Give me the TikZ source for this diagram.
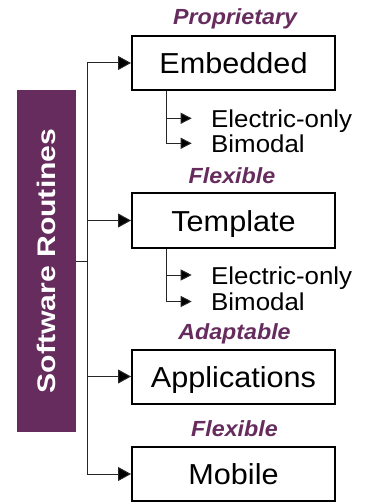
\documentclass[tikz,border=0pt]{standalone}
\usepackage{fontspec}
\setmainfont[FakeStretch=1.06]{Liberation Sans}
\usetikzlibrary{arrows.meta}
\definecolor{plum}{RGB}{102,44,94}
\begin{document}
\begin{tikzpicture}[x=1bp,y=-1bp,
  catbox/.style={draw=black, line width=2bp, minimum width=203bp, minimum height=54bp,
    inner sep=0pt, font=\fontsize{29}{32}\selectfont, text height=21bp, text depth=0bp},
  tag/.style={text=plum, font=\fontsize{22}{24}\selectfont\bfseries\itshape, anchor=base, inner sep=0pt},
  subtext/.style={font=\fontsize{24.5}{26}\selectfont, anchor=base west, inner sep=0pt},
  conn/.style={draw=black!85, line width=1bp},
  arr/.style={conn, -{Triangle[length=13bp,width=14bp,fill=black]}},
  subarr/.style={conn, -{Triangle[length=11bp,width=11bp,fill=black]}},
]
\useasboundingbox (0,0) rectangle (370,502);

% side bar
\node[fill=plum, minimum width=59bp, minimum height=342bp, inner sep=0pt] (bar) at (46.2,261) {};
\node[rotate=90, text=white, inner sep=0pt, font=\fontsize{25.5}{27}\selectfont\bfseries,
      text height=18bp, text depth=0bp] (title) at (bar.center) {\scalebox{1.12}[1]{Software Routines}};

% boxes
\node[catbox] (emb) at (233.5,63)    {Embedded};
\node[catbox] (tpl) at (233.5,220.5) {Template};
\node[catbox] (app) at (233.5,376.5) {Applications};
\node[catbox] (mob) at (233.5,474)   {Mobile};

% tags
\node[tag] (t1) at (235,25)    {Proprietary};
\node[tag] (t2) at (232,183.3) {Flexible};
\node[tag] (t3) at (234.5,339) {Adaptable};
\node[tag] (t4) at (234.5,436.7) {Flexible};

% trunk
\coordinate (trunk) at (87,0);
\draw[conn] (bar.east) -- (bar.east -| trunk);
\draw[conn] (emb.west -| trunk) -- (mob.west -| trunk);
\draw[arr] (emb.west -| trunk) -- (emb.west);
\draw[arr] (tpl.west -| trunk) -- (tpl.west);
\draw[arr] (app.west -| trunk) -- (app.west);
\draw[arr] (mob.west -| trunk) -- (mob.west);

% sub items
\coordinate (sx) at (166.7,0);
\coordinate (e1tip) at (191.7,118.3);
\coordinate (b1tip) at (191.7,143.3);
\coordinate (e2tip) at (191.7,275);
\coordinate (b2tip) at (191.7,301.5);

\node[subtext] (e1) at (211,127.3) {Electric-only};
\node[subtext] (b1) at (211,152.3) {Bimodal};
\node[subtext] (e2) at (211,284)   {Electric-only};
\node[subtext] (b2) at (211,310.5) {Bimodal};

\draw[subarr] (emb.south -| sx) -- (sx |- b1tip) -- (b1tip);
\draw[subarr] (sx |- e1tip) -- (e1tip);
\draw[subarr] (tpl.south -| sx) -- (sx |- b2tip) -- (b2tip);
\draw[subarr] (sx |- e2tip) -- (e2tip);
\end{tikzpicture}
\end{document}
